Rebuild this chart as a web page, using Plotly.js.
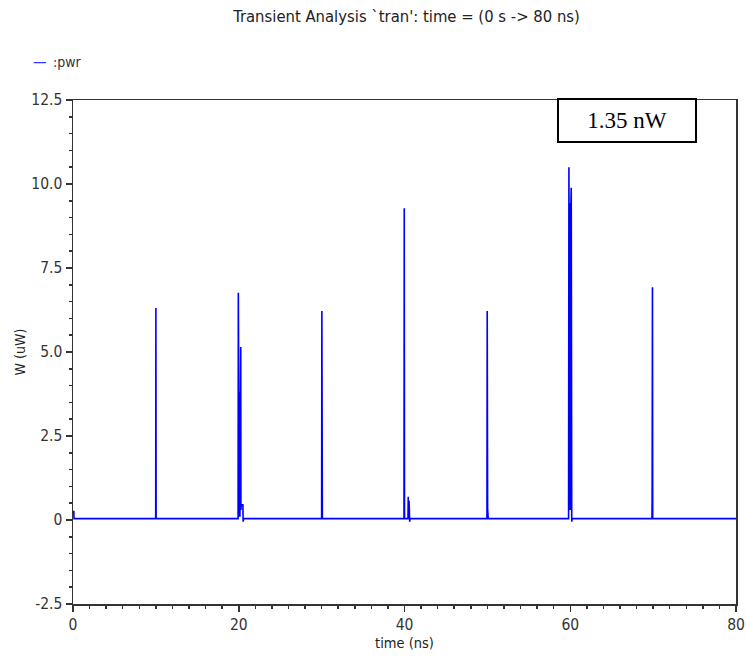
<!DOCTYPE html>
<html>
<head>
<meta charset="utf-8">
<script src="https://cdn.plot.ly/plotly-3.0.1.min.js"></script>
<style>html,body{margin:0;padding:0;background:#fff;}#chart{width:746px;height:658px;}</style>
</head>
<body>
<div id="chart"></div>
<script>
// Data (time in ns, power in uW)
const time_ns = [
  0.0, 0.1, 0.12,
  9.98, 10.0, 10.03,
  19.92, 19.95, 19.98, 20.0, 20.02, 20.04, 20.06, 20.08, 20.1, 20.12, 20.14, 20.16, 20.18, 20.2, 20.22, 20.24, 20.26, 20.28, 20.3, 20.5, 20.53, 20.58,
  30.0, 30.03, 30.06, 30.09,
  39.94, 39.97, 40.0, 40.42, 40.45, 40.5, 40.55, 40.58, 40.63, 40.67,
  49.95, 49.98, 50.01, 50.03, 50.1, 50.13,
  59.8, 59.84, 59.86, 59.88, 59.9, 59.92, 59.94, 59.96, 59.98, 60.0, 60.02, 60.04, 60.06, 60.08, 60.1, 60.12, 60.14, 60.18, 60.22, 60.26,
  69.86, 69.88, 69.92, 69.95, 69.98,
  80.0
];
const power_uW = [
  0.25, 0.25, 0.04,
  0.04, 6.31, 0.04,
  0.04, 6.76, 0.1, 3.8, 0.1, 3.8, 0.1, 3.8, 0.1, 3.8, 0.1, 3.8, 0.1, 3.8, 0.1, 5.15, 0.3, 0.45, 0.45, 0.45, -0.05, 0.04,
  0.04, 6.22, 0.12, 0.04,
  0.04, 9.28, 0.04, 0.04, 0.69, 0.1, 0.57, 0.1, -0.05, 0.04,
  0.04, 6.22, 0.35, 0.35, 0.04, 0.04,
  0.04, 10.5, 0.3, 9.43, 0.3, 9.43, 0.3, 9.43, 0.3, 9.43, 0.3, 9.43, 0.3, 9.43, 0.3, 9.89, 0.3, -0.05, 0.04, 0.04,
  0.04, 0.5, 6.93, 0.04, 0.04,
  0.04
];
const yTickVals = [-2.5, 0, 2.5, 5, 7.5, 10, 12.5];
const yTickText = ['-2.5', '0', '2.5', '5.0', '7.5', '10.0', '12.5'];
const xTickVals = [0, 20, 40, 60, 80];
const xTickText = ['0', '20', '40', '60', '80'];
const titleText = "Transient Analysis `tran': time = (0 s -> 80 ns)";
const seriesName = ':pwr';
const noteText = '1.35 nW';

const font = 'DejaVu Sans Condensed, DejaVu Sans, sans-serif';
const axisCommon = {
  showline: true, mirror: true, linecolor: '#333', linewidth: 1.5,
  showgrid: false, zeroline: false,
  ticks: 'outside', ticklen: 6, tickwidth: 1.5, tickcolor: '#333',
  tickfont: {family: font, size: 15.5, color: '#333'},
  tickmode: 'array'
};
const minorCommon = {
  showline: false, showgrid: false, zeroline: false, showticklabels: false,
  ticks: 'outside', ticklen: 3.5, tickwidth: 1.5, tickcolor: '#333', tickmode: 'linear'
};

Plotly.newPlot('chart', [
  {x: time_ns, y: power_uW, type: 'scatter', mode: 'lines',
   name: seriesName, showlegend: false, line: {color: '#0000ff', width: 1.6}},
  {x: [], y: [], type: 'scatter', mode: 'lines', xaxis: 'x2', yaxis: 'y2', showlegend: false, hoverinfo: 'skip'}
], {
  width: 746, height: 658,
  margin: {l: 73, r: 10, t: 100, b: 54},
  paper_bgcolor: '#fff', plot_bgcolor: '#fff',
  title: {text: titleText, font: {family: font, size: 16.5, color: '#222'}, x: 0.545, xanchor: 'center', y: 0.975, yanchor: 'middle'},
  xaxis: Object.assign({}, axisCommon, {
    range: [0, 80], tickvals: xTickVals, ticktext: xTickText,
    title: {text: 'time (ns)', font: {family: font, size: 14.5, color: '#222'}, standoff: 5}
  }),
  yaxis: Object.assign({}, axisCommon, {
    range: [-2.5, 12.5], tickvals: yTickVals, ticktext: yTickText,
    title: {text: 'W (uW)', font: {family: font, size: 14, color: '#222'}, standoff: 2}
  }),
  xaxis2: Object.assign({}, minorCommon, {overlaying: 'x', side: 'bottom', anchor: 'y', range: [0, 80], tick0: 0, dtick: 2}),
  yaxis2: Object.assign({}, minorCommon, {overlaying: 'y', side: 'left', anchor: 'x', range: [-2.5, 12.5], tick0: 0, dtick: 0.5}),
  annotations: [
    {xref: 'paper', yref: 'paper', x: 0.8356, y: 0.959, xanchor: 'center', yanchor: 'middle',
     text: noteText, showarrow: false, font: {family: 'Liberation Serif, Times New Roman, serif', size: 23, color: '#000'},
     bordercolor: '#000', borderwidth: 2, bgcolor: '#fff', width: 134, height: 39},
    {xref: 'paper', yref: 'paper', x: -0.064, y: 1.076, xanchor: 'left', yanchor: 'middle',
     text: '—', showarrow: false, font: {family: font, size: 15, color: '#3333ff'}},
    {xref: 'paper', yref: 'paper', x: -0.033, y: 1.076, xanchor: 'left', yanchor: 'middle',
     text: seriesName, showarrow: false, font: {family: font, size: 14, color: '#333'}}
  ]
}, {displayModeBar: false, staticPlot: true});
</script>
</body>
</html>
